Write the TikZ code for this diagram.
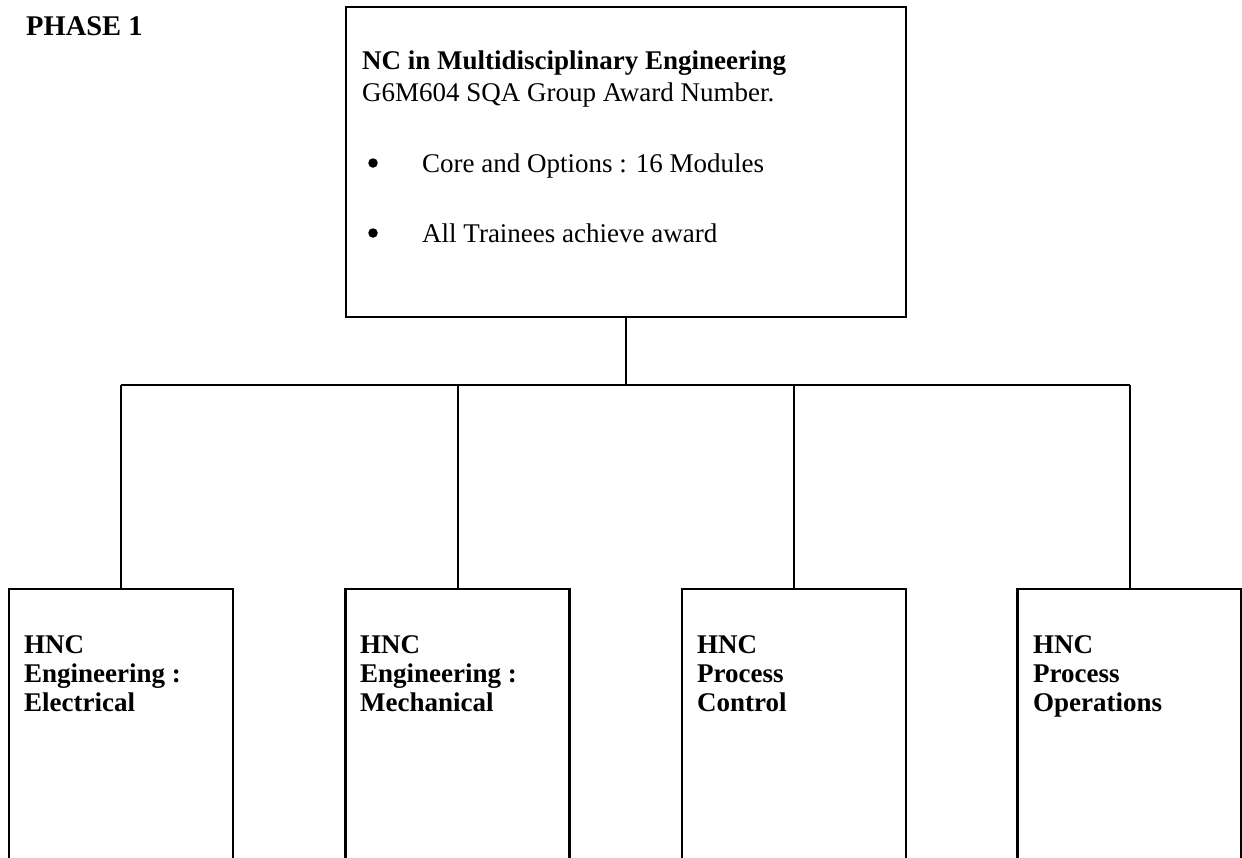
\documentclass[tikz,border=0pt]{standalone}
\usepackage{fontspec}
\setmainfont{Liberation Serif}
\begin{document}
\begin{tikzpicture}[x=1pt,y=1pt,
  txt/.style={anchor=base west,inner sep=0pt,font=\fontsize{27}{31}\selectfont},
  btxt/.style={txt,font=\fontsize{27}{31}\selectfont\bfseries},
  bigbox/.style={draw,line width=2.2pt,minimum width=560pt,minimum height=310pt,inner sep=0pt},
  hncbox/.style={draw,line width=2.2pt,minimum width=224pt,minimum height=320pt,inner sep=0pt},
  dot/.style={circle,fill=black,inner sep=0pt,minimum size=9.5pt},
  link/.style={line width=2.2pt},
  drop/.style={line width=2pt}]
\useasboundingbox (0,0) rectangle (1242,-857);
% title
\node[btxt,font=\fontsize{28.5}{31}\selectfont\bfseries] (phase) at (26,-35) {PHASE 1};
% top box
\node[bigbox] (topbox) at (626,-162) {};
\node[btxt] (t1) at (362,-69) {NC in Multidisciplinary Engineering};
\node[txt] (t2) at (362,-101) {G6M604 SQA Group Award Number.};
\node[dot] (bu1) at (373,-163) {};
\node[txt] (t3) at (422,-172) {Core and Options : 16 Modules};
\node[dot] (bu2) at (373,-233) {};
\node[txt] (t4) at (422,-242) {All Trainees achieve award};
% bottom boxes (cut off by the page bottom)
\node[hncbox] (b1) at (121,-749) {};
\node[hncbox] (b2) at (457.5,-749) {};
\node[hncbox] (b3) at (794,-749) {};
\node[hncbox] (b4) at (1129.5,-749) {};
\node[btxt] (b1a) at (24,-653) {HNC};
\node[btxt] (b1b) at (24,-682) {Engineering :};
\node[btxt] (b1c) at (24,-711) {Electrical};
\node[btxt] (b2a) at (360,-653) {HNC};
\node[btxt] (b2b) at (360,-682) {Engineering :};
\node[btxt] (b2c) at (360,-711) {Mechanical};
\node[btxt] (b3a) at (697,-653) {HNC};
\node[btxt] (b3b) at (697,-682) {Process};
\node[btxt] (b3c) at (697,-711) {Control};
\node[btxt] (b4a) at (1033,-653) {HNC};
\node[btxt] (b4b) at (1033,-682) {Process};
\node[btxt] (b4c) at (1033,-711) {Operations};
% connectors
\coordinate (bus) at (626,-385);
\draw[link] (topbox.south) -- (bus);
\draw[link] (b1.north |- bus) -- (b4.north |- bus);
\draw[drop] (b1.north) -- (b1.north |- bus);
\draw[drop] (b2.north) -- (b2.north |- bus);
\draw[drop] (b3.north) -- (b3.north |- bus);
\draw[drop] (b4.north) -- (b4.north |- bus);
\end{tikzpicture}
\end{document}
